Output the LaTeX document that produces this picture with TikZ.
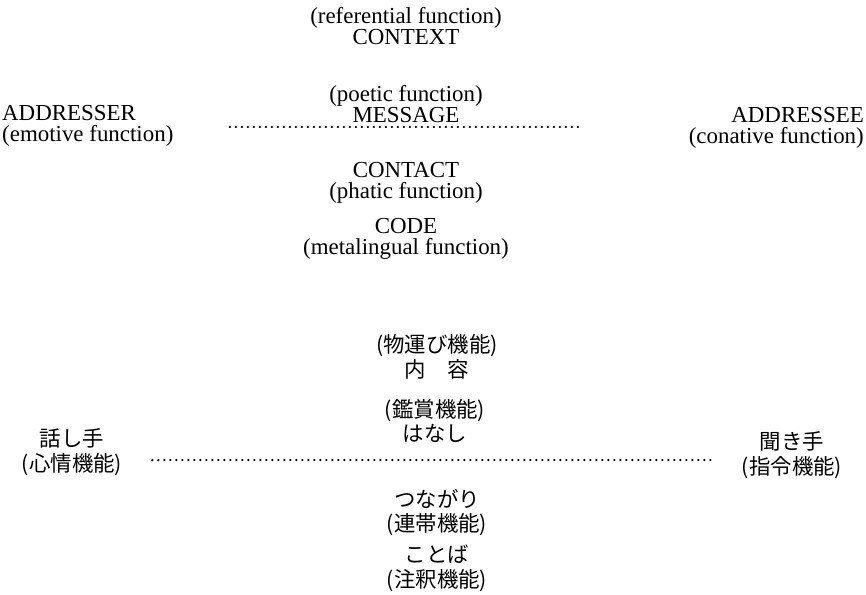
\documentclass[tikz,border=0pt]{standalone}
\usepackage{fontspec}
\setmainfont{Liberation Serif}
\newfontfamily\jfont{Noto Sans CJK JP}
\begin{document}
\begin{tikzpicture}[x=1bp,y=-1bp,
  en/.style={inner sep=0pt,align=center,font=\fontsize{23}{21}\selectfont},
  jp/.style={inner sep=0pt,align=center,font=\jfont\fontsize{21.5}{25}\selectfont},
  dotline/.style={line width=2bp,line cap=round,dash pattern=on 0.6bp off 5.4bp}]
\useasboundingbox (0,0) rectangle (866,595);
\node[en] (ref) at (406,26.5) {(referential function)\\CONTEXT};
\node[en] (msg) at (406,104.5) {(poetic function)\\MESSAGE};
\node[en,anchor=west,align=left] (ser) at (2,125.5) {ADDRESSER\\(emotive function)};
\node[en,anchor=east,align=right] (see) at (864,127.5) {ADDRESSEE\\(conative function)};
\node[en] (con) at (406,182.5) {CONTACT\\(phatic function)};
\node[en] (code) at (406,239) {CODE\\(metalingual function)};
\draw[dotline,shorten <=56bp,shorten >=106bp] ([yshift=-1.5bp]ser.east) -- ([yshift=0.5bp]see.west);

\node[jp] (jref) at (437,356.5) {(物運び機能)\\内　容};
\node[jp] (jmsg) at (435,421) {(鑑賞機能)\\はなし};
\node[jp] (jser) at (72,452.5) {話し手\\(心情機能)};
\node[jp] (jsee) at (792,455) {聞き手\\(指令機能)};
\node[jp] (jcon) at (437,512.5) {つながり\\(連帯機能)};
\node[jp] (jcode) at (437,568.5) {ことば\\(注釈機能)};
\draw[dotline] ([xshift=80bp,yshift=-7.5bp]jser.center) -- ([xshift=-77bp,yshift=-5bp]jsee.center);
\end{tikzpicture}
\end{document}
